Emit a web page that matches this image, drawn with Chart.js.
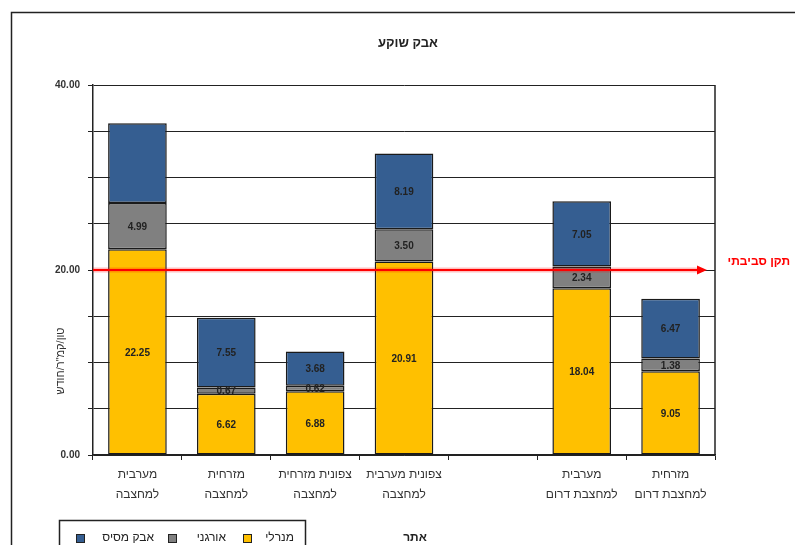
<!DOCTYPE html>
<html lang="he">
<head>
<meta charset="utf-8">
<script src="https://cdn.jsdelivr.net/npm/chart.js@4.4.1/dist/chart.umd.min.js"></script>
<style>
  html, body { margin: 0; padding: 0; background: #fff; }
  #wrap { width: 795px; height: 545px; position: relative; }
  canvas { display: block; }
</style>
</head>
<body>
<div id="wrap"><canvas id="c" width="795" height="545"></canvas></div>
<script>
// ---- data ----
const chartTitle = 'אבק שוקע';
const categories = [
  ['מערבית', 'למחצבה'],
  ['מזרחית', 'למחצבה'],
  ['צפונית מזרחית', 'למחצבה'],
  ['צפונית מערבית', 'למחצבה'],
  '',
  ['מערבית', 'למחצבת דרום'],
  ['מזרחית', 'למחצבת דרום']
];
const seriesNames = ['מנרלי', 'אורגני', 'אבק מסיס'];
const mineral = [22.25, 6.62, 6.88, 20.91, null, 18.04, 9.05];
const organic = [4.99, 0.67, 0.62, 3.50, null, 2.34, 1.38];
const soluble = [8.62, 7.55, 3.68, 8.19, null, 7.05, 6.47];
const hiddenLabels = [[2, 0]]; // [datasetIndex, categoryIndex] with no value label in the original
const standardValue = 20;
const standardLabel = 'תקן סביבתי';
const yTitle = 'טון/קמ"ר/חודש';
const xTitle = 'אתר';
const yMin = 0, yMax = 40, yStep = 5, yLabelStep = 20;

const colors = ['#FFC000', '#808080', '#355E91'];
const FONT = '"Liberation Sans", "DejaVu Sans", Arial, sans-serif';

const decorPlugin = {
  id: 'decor',
  beforeDraw(chart) {
    const ctx = chart.ctx;
    ctx.save();
    ctx.fillStyle = '#fff';
    ctx.fillRect(0, 0, chart.width, chart.height);
    ctx.restore();
  },
  afterDatasetsDraw(chart) {
    const ctx = chart.ctx;
    const area = chart.chartArea;
    const ys = chart.scales.y;
    ctx.save();
    // value labels
    ctx.font = 'bold 10px ' + FONT;
    ctx.fillStyle = '#222';
    ctx.textAlign = 'center';
    ctx.textBaseline = 'middle';
    chart.data.datasets.forEach((ds, di) => {
      const meta = chart.getDatasetMeta(di);
      meta.data.forEach((el, i) => {
        const v = ds.data[i];
        if (v === null || v === undefined) return;
        if (hiddenLabels.some(h => h[0] === di && h[1] === i)) return;
        const p = el.getProps(['x', 'y', 'base'], true);
        ctx.fillText(v.toFixed(2), p.x, (p.y + p.base) / 2 + 1);
      });
    });
    // right border of plot area
    ctx.strokeStyle = '#222';
    ctx.lineWidth = 1.5;
    ctx.beginPath();
    ctx.moveTo(area.right, area.top);
    ctx.lineTo(area.right, area.bottom);
    ctx.stroke();
    // standard line with arrow
    const yy = Math.round(ys.getPixelForValue(standardValue));
    const xEnd = area.right - 8;
    ctx.strokeStyle = 'rgba(255,0,0,0.25)';
    ctx.lineWidth = 5;
    ctx.beginPath();
    ctx.moveTo(area.left, yy);
    ctx.lineTo(xEnd - 8, yy);
    ctx.stroke();
    ctx.strokeStyle = '#FF0000';
    ctx.lineWidth = 2;
    ctx.beginPath();
    ctx.moveTo(area.left, yy);
    ctx.lineTo(xEnd - 8, yy);
    ctx.stroke();
    ctx.fillStyle = '#FF0000';
    ctx.beginPath();
    ctx.moveTo(xEnd, yy);
    ctx.lineTo(xEnd - 10, yy - 4.5);
    ctx.lineTo(xEnd - 10, yy + 4.5);
    ctx.closePath();
    ctx.fill();
    ctx.font = 'bold 12px ' + FONT;
    ctx.textAlign = 'right';
    ctx.direction = 'rtl';
    ctx.textBaseline = 'middle';
    ctx.fillText(standardLabel, 790, yy - 8);
    ctx.restore();
  },
  afterDraw(chart) {
    const ctx = chart.ctx;
    ctx.save();
    // outer frame
    ctx.strokeStyle = '#222';
    ctx.lineWidth = 1.5;
    ctx.strokeRect(11.5, 12.5, 900, 700);
    // title
    ctx.fillStyle = '#222';
    ctx.font = 'bold 13px ' + FONT;
    ctx.textAlign = 'center';
    ctx.textBaseline = 'middle';
    ctx.fillText(chartTitle, 408, 43);
    // y axis title (rotated)
    ctx.save();
    ctx.translate(61, 361);
    ctx.rotate(-Math.PI / 2);
    ctx.direction = 'rtl';
    ctx.font = '11px ' + FONT;
    ctx.fillStyle = '#333';
    ctx.textAlign = 'center';
    ctx.fillText(yTitle, 0, 0);
    ctx.restore();
    // x axis title
    ctx.font = 'bold 12px ' + FONT;
    ctx.fillStyle = '#222';
    ctx.textAlign = 'center';
    ctx.fillText(xTitle, 415, 538);
    // legend box
    ctx.strokeStyle = '#222';
    ctx.lineWidth = 1.5;
    ctx.strokeRect(59.5, 520.5, 246, 60);
    const items = [
      {ds: 2, box: 76, textRight: 154},
      {ds: 1, box: 168, textRight: 226},
      {ds: 0, box: 243, textRight: 294}
    ];
    ctx.font = '12px ' + FONT;
    ctx.textBaseline = 'middle';
    items.forEach(it => {
      const ds = chart.data.datasets[it.ds];
      ctx.fillStyle = ds.backgroundColor;
      ctx.fillRect(it.box, 534, 8, 8);
      ctx.strokeStyle = '#222';
      ctx.lineWidth = 1;
      ctx.strokeRect(it.box + 0.5, 534.5, 8, 8);
      ctx.fillStyle = '#222';
      ctx.textAlign = 'right';
      ctx.direction = 'rtl';
      ctx.fillText(ds.label, it.textRight, 538);
    });
    ctx.restore();
  }
};

const mkDs = (label, data, color) => ({
  label, data,
  backgroundColor: color,
  borderColor: '#1a1a1a',
  borderWidth: 1.5,
  borderSkipped: false,
  categoryPercentage: 1.0,
  barPercentage: 0.66
});

new Chart(document.getElementById('c'), {
  type: 'bar',
  data: {
    labels: categories,
    datasets: [
      mkDs(seriesNames[0], mineral, colors[0]),
      mkDs(seriesNames[1], organic, colors[1]),
      mkDs(seriesNames[2], soluble, colors[2])
    ]
  },
  options: {
    responsive: false,
    animation: false,
    devicePixelRatio: 1,
    layout: { padding: { left: 0, top: 85, right: 80, bottom: 0 } },
    plugins: {
      legend: { display: false },
      title: { display: false },
      tooltip: { enabled: false }
    },
    scales: {
      x: {
        stacked: true,
        offset: true,
        afterFit(scale) { scale.height = 90; },
        grid: {
          offset: true,
          drawOnChartArea: false,
          drawTicks: true,
          tickLength: 5,
          color: '#222',
          lineWidth: 1
        },
        border: { display: true, color: '#222', width: 1.5 },
        ticks: {
          autoSkip: false,
          maxRotation: 0,
          minRotation: 0,
          padding: 5,
          color: '#333',
          font: { family: FONT, size: 12, lineHeight: 1.67 }
        }
      },
      y: {
        stacked: true,
        min: yMin,
        max: yMax,
        afterFit(scale) { scale.width = 93; },
        grid: {
          drawTicks: true,
          tickLength: 5,
          color: '#222',
          lineWidth: 1
        },
        border: { display: true, color: '#222', width: 1.5 },
        ticks: {
          stepSize: yStep,
          padding: 8,
          color: '#333',
          font: { family: FONT, size: 10, weight: 'bold' },
          callback: (v) => (v % yLabelStep === 0 ? Number(v).toFixed(2) : '')
        }
      }
    }
  },
  plugins: [decorPlugin]
});
</script>
</body>
</html>
